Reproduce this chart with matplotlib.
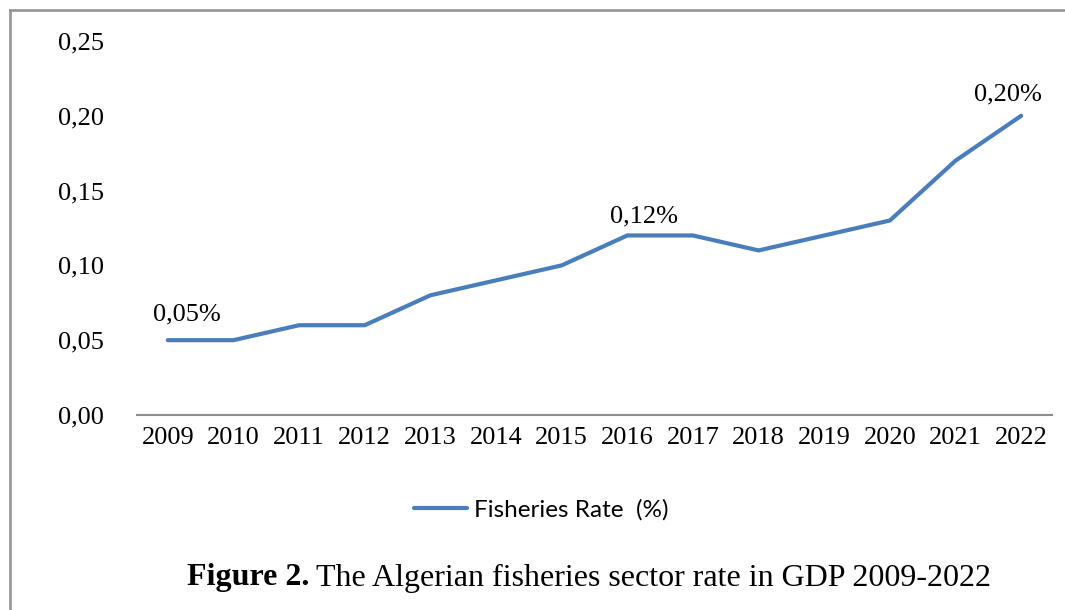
import numpy as np
import matplotlib
matplotlib.use('Agg')
import matplotlib.pyplot as plt
from matplotlib.lines import Line2D

years = ['2009', '2010', '2011', '2012', '2013', '2014', '2015',
         '2016', '2017', '2018', '2019', '2020', '2021', '2022']
rate = [0.05, 0.05, 0.06, 0.06, 0.08, 0.09, 0.10,
        0.12, 0.12, 0.11, 0.12, 0.13, 0.17, 0.20]
y_ticks = [0.00, 0.05, 0.10, 0.15, 0.20, 0.25]
# which points carry a data label, with label offsets in pixels
label_idx = [0, 7, 13]
label_off = [(19, 26), (17, 19), (-13, 21)]

serif = 'Liberation Serif'
blue = '#4a7ebb'
grey = '#8c8c8c'
fs = 19

fig = plt.figure(figsize=(10.65, 6.1), dpi=100)
ax = fig.add_axes([0.1286, 0.3197, 0.8592, 0.6131])

x = np.arange(len(years))
ax.plot(x, rate, color=blue, lw=3.0, solid_capstyle='round', solid_joinstyle='round')

for i, (dx, dy) in zip(label_idx, label_off):
    ax.annotate(f'{rate[i]:.2f}%'.replace('.', ','), (x[i], rate[i]),
                xytext=(dx, dy), textcoords='offset pixels',
                ha='center', va='center', fontsize=fs, family=serif)

ax.set_xlim(-0.47, len(years) - 0.53)
ax.set_ylim(0, 0.25)
ax.set_xticks(x)
ax.set_xticklabels(years, family=serif, fontsize=fs)
ax.set_yticks(y_ticks)
ax.set_yticklabels([f'{v:.2f}'.replace('.', ',') for v in y_ticks], family=serif, fontsize=fs)
ax.tick_params(axis='both', length=0)
ax.tick_params(axis='x', pad=9)
ax.tick_params(axis='y', pad=24)
for s in ['top', 'right', 'left']:
    ax.spines[s].set_visible(False)
ax.spines['bottom'].set_color(grey)
ax.spines['bottom'].set_linewidth(1.5)

# legend below the plot
handle = Line2D([], [], color=blue, lw=3.0, solid_capstyle='round')
fig.legend([handle], ['Fisheries Rate  (%)'], loc='center',
           bbox_to_anchor=(0.508, 1 - 510 / 610), frameon=False,
           prop={'family': 'Lato', 'size': 17.5}, handlelength=2.2, handletextpad=0.25)

# caption: bold figure number followed by regular text
cap_y = 1 - 578 / 610
cap_b = fig.text(187 / 1065, cap_y, 'Figure 2.', family=serif, weight='bold',
                 fontsize=23, ha='left', va='center')
fig.canvas.draw()
bb = cap_b.get_window_extent()
fig.text(bb.x1 / 1065 + 0.006, cap_y, 'The Algerian fisheries sector rate in GDP 2009-2022',
         family=serif, fontsize=23, ha='left', va='center')

# outer frame (top and left edges)
fig.add_artist(Line2D([10 / 1065, 1], [1 - 10 / 610, 1 - 10 / 610], color='#999999', lw=2,
                      transform=fig.transFigure))
fig.add_artist(Line2D([10 / 1065, 10 / 1065], [0, 1 - 10 / 610], color='#999999', lw=2,
                      transform=fig.transFigure))

fig.savefig('out.png', dpi=100)
